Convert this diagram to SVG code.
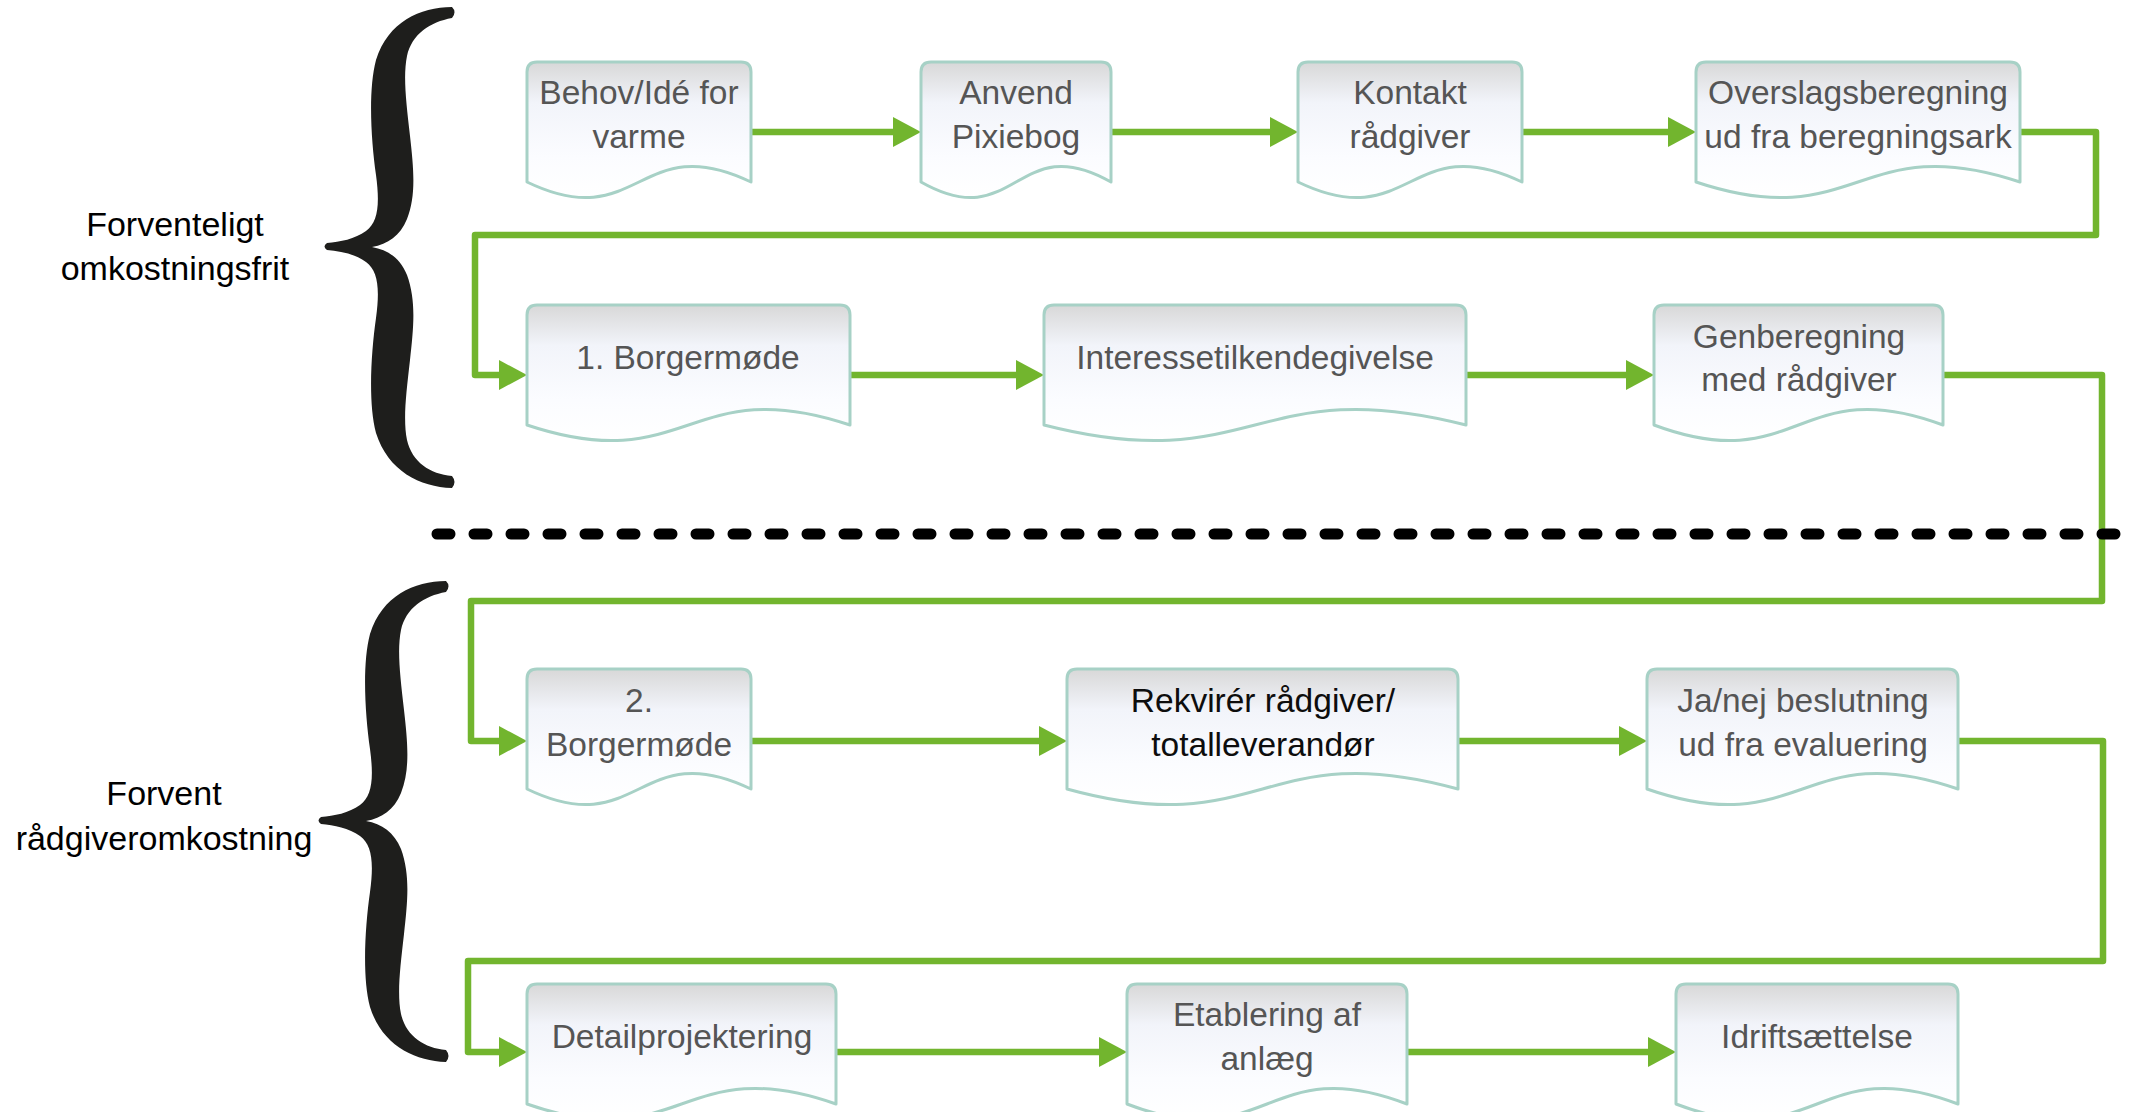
<svg xmlns="http://www.w3.org/2000/svg" width="2129" height="1112" viewBox="0 0 2129 1112">
<style>
.node{fill:url(#nodeGrad);stroke:#a7d1c6;stroke-width:3;stroke-linejoin:round}
.nt{font-family:"Liberation Sans",Arial,sans-serif;font-size:33.5px;fill:#555555;text-anchor:middle}
.nt.dark{fill:#0d0d0d}
.lbl{font-family:"Liberation Sans",Arial,sans-serif;font-size:34px;fill:#000;text-anchor:middle}
.conn{fill:none;stroke:#72b52e;stroke-width:6.5;stroke-linecap:round;stroke-linejoin:round;marker-end:url(#arr)}
.brace{fill:#1e1e1c}
</style>
<defs>
<linearGradient id="nodeGrad" x1="0" y1="0" x2="0" y2="1">
<stop offset="0" stop-color="#d8d8d8"/>
<stop offset="0.3" stop-color="#f2f4fa"/>
<stop offset="0.7" stop-color="#fbfcff"/>
<stop offset="1" stop-color="#ffffff"/>
</linearGradient>
<marker id="arr" markerUnits="userSpaceOnUse" markerWidth="28" markerHeight="30" refX="8" refY="15" orient="auto">
<path d="M0,0 L28,15 L0,30 Z" fill="#72b52e"/>
</marker>
<path id="braceShape" d="M452,7 C420,7 388,22 376,60 C368,90 371,140 376,175 C380,205 378,222 366,231 C355,239 340,242 327,243 Q322,246.5 327,250 C340,251 355,254 366,262 C378,271 380,288 376,318 C371,353 368,403 376,433 C388,471 420,487 452,488 Q457,482 452,476 C430,474 412,462 407,440 C403,420 406,395 410,360 C414,325 416,300 407,275 C400,258 388,250 372,247 C388,244 400,236 407,219 C416,196 414,171 410,136 C406,101 403,76 407,56 C412,34 430,22 452,18 Q457,12 452,7 Z"/>
</defs>
<rect width="2129" height="1112" fill="#ffffff"/>

<g id="braces">
<use href="#braceShape" class="brace"/>
<use href="#braceShape" class="brace" transform="translate(-6,574)"/>
</g>

<g id="labels">
<text class="lbl" x="175" y="236">Forventeligt</text>
<text class="lbl" x="175" y="280">omkostningsfrit</text>
<text class="lbl" x="164" y="805">Forvent</text>
<text class="lbl" x="164" y="850">rådgiveromkostning</text>
</g>

<g id="connectors">
<path class="conn" d="M751,132 H901"/>
<path class="conn" d="M1111,132 H1278"/>
<path class="conn" d="M1522,132 H1676"/>
<path class="conn" d="M2020,132 H2096 V235 H475 V375 H507"/>
<path class="conn" d="M850,375 H1024"/>
<path class="conn" d="M1466,375 H1634"/>
<path class="conn" d="M1943,375 H2102 V601 H471 V741 H507"/>
<path class="conn" d="M751,741 H1047"/>
<path class="conn" d="M1458,741 H1627"/>
<path class="conn" d="M1958,741 H2103 V961 H468 V1052 H507"/>
<path class="conn" d="M836,1052 H1107"/>
<path class="conn" d="M1407,1052 H1656"/>
</g>

<g id="separator">
<path d="M437,534 H2140" fill="none" stroke="#000" stroke-width="11" stroke-linecap="round" stroke-dasharray="13 24"/>
</g>

<g id="n1">
<path class="node" d="M527,182 L527,72 Q527,62 537,62 L741,62 Q751,62 751,72 L751,182 C639,128 639,236 527,182 Z"/>
<text class="nt" x="639" y="104">Behov/Idé for</text>
<text class="nt" x="639" y="148">varme</text>
</g>
<g id="n2">
<path class="node" d="M921,182 L921,72 Q921,62 931,62 L1101,62 Q1111,62 1111,72 L1111,182 C1016,128 1016,236 921,182 Z"/>
<text class="nt" x="1016" y="104">Anvend</text>
<text class="nt" x="1016" y="148">Pixiebog</text>
</g>
<g id="n3">
<path class="node" d="M1298,182 L1298,72 Q1298,62 1308,62 L1512,62 Q1522,62 1522,72 L1522,182 C1410,128 1410,236 1298,182 Z"/>
<text class="nt" x="1410" y="104">Kontakt</text>
<text class="nt" x="1410" y="148">rådgiver</text>
</g>
<g id="n4">
<path class="node" d="M1696,182 L1696,72 Q1696,62 1706,62 L2010,62 Q2020,62 2020,72 L2020,182 C1858,128 1858,236 1696,182 Z"/>
<text class="nt" x="1858" y="104">Overslagsberegning</text>
<text class="nt" x="1858" y="148">ud fra beregningsark</text>
</g>
<g id="n5">
<path class="node" d="M527,425 L527,315 Q527,305 537,305 L840,305 Q850,305 850,315 L850,425 C688.5,371 688.5,479 527,425 Z"/>
<text class="nt" x="688" y="369">1. Borgermøde</text>
</g>
<g id="n6">
<path class="node" d="M1044,425 L1044,315 Q1044,305 1054,305 L1456,305 Q1466,305 1466,315 L1466,425 C1255,371 1255,479 1044,425 Z"/>
<text class="nt" x="1255" y="369">Interessetilkendegivelse</text>
</g>
<g id="n7">
<path class="node" d="M1654,425 L1654,315 Q1654,305 1664,305 L1933,305 Q1943,305 1943,315 L1943,425 C1798.5,371 1798.5,479 1654,425 Z"/>
<text class="nt" x="1799" y="348">Genberegning</text>
<text class="nt" x="1799" y="391">med rådgiver</text>
</g>
<g id="n8">
<path class="node" d="M527,789 L527,679 Q527,669 537,669 L741,669 Q751,669 751,679 L751,789 C639,735 639,843 527,789 Z"/>
<text class="nt" x="639" y="712">2.</text>
<text class="nt" x="639" y="756">Borgermøde</text>
</g>
<g id="n9">
<path class="node" d="M1067,789 L1067,679 Q1067,669 1077,669 L1448,669 Q1458,669 1458,679 L1458,789 C1262.5,735 1262.5,843 1067,789 Z"/>
<text class="nt dark" x="1263" y="712">Rekvirér rådgiver/</text>
<text class="nt dark" x="1263" y="756">totalleverandør</text>
</g>
<g id="n10">
<path class="node" d="M1647,789 L1647,679 Q1647,669 1657,669 L1948,669 Q1958,669 1958,679 L1958,789 C1802.5,735 1802.5,843 1647,789 Z"/>
<text class="nt" x="1803" y="712">Ja/nej beslutning</text>
<text class="nt" x="1803" y="756">ud fra evaluering</text>
</g>
<g id="n11">
<path class="node" d="M527,1104 L527,994 Q527,984 537,984 L826,984 Q836,984 836,994 L836,1104 C681.5,1050 681.5,1158 527,1104 Z"/>
<text class="nt" x="682" y="1048">Detailprojektering</text>
</g>
<g id="n12">
<path class="node" d="M1127,1104 L1127,994 Q1127,984 1137,984 L1397,984 Q1407,984 1407,994 L1407,1104 C1267,1050 1267,1158 1127,1104 Z"/>
<text class="nt" x="1267" y="1026">Etablering af</text>
<text class="nt" x="1267" y="1070">anlæg</text>
</g>
<g id="n13">
<path class="node" d="M1676,1104 L1676,994 Q1676,984 1686,984 L1948,984 Q1958,984 1958,994 L1958,1104 C1817,1050 1817,1158 1676,1104 Z"/>
<text class="nt" x="1817" y="1048">Idriftsættelse</text>
</g>
</svg>
